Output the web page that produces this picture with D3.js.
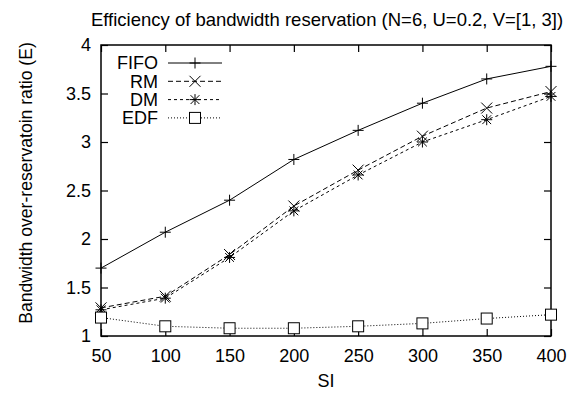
<!DOCTYPE html>
<html>
<head>
<meta charset="utf-8">
<script src="https://cdn.jsdelivr.net/npm/d3@7"></script>
<style>
  body { margin: 0; background: #fff; }
  svg { display: block; font-family: "Liberation Sans", Arial, sans-serif; }
  .tick text { font-size: 18px; fill: #000; }
</style>
</head>
<body>
<svg id="chart" width="581" height="394"></svg>
<script>
// values
var siValues = [50, 100, 150, 200, 250, 300, 350, 400];
var fifo = [1.70, 2.07, 2.40, 2.82, 3.12, 3.40, 3.65, 3.78];
var rm   = [1.29, 1.41, 1.84, 2.34, 2.71, 3.06, 3.35, 3.52];
var dm   = [1.27, 1.39, 1.81, 2.29, 2.66, 3.00, 3.23, 3.47];
var edf  = [1.19, 1.10, 1.08, 1.08, 1.10, 1.13, 1.18, 1.22];
var yTicks = [1, 1.5, 2, 2.5, 3, 3.5, 4];
var seriesNames = ["FIFO", "RM", "DM", "EDF"];

var margin = { top: 45, right: 30, bottom: 58, left: 101 };
var width = 581 - margin.left - margin.right;
var height = 394 - margin.top - margin.bottom;

var svg = d3.select("#chart");
var g = svg.append("g").attr("transform", "translate(" + margin.left + "," + margin.top + ")");

var x = d3.scaleLinear().domain([50, 400]).range([0, width]);
var y = d3.scaleLinear().domain([1, 4]).range([height, 0]);

var tickLen = 7;

// axes: gnuplot style, ticks pointing inward and mirrored
var xAxis = g.append("g").attr("transform", "translate(0," + height + ")")
  .call(d3.axisBottom(x).tickValues(siValues).tickSize(-tickLen).tickPadding(13).tickFormat(d3.format("d")));
var xTop = g.append("g")
  .call(d3.axisTop(x).tickValues(siValues).tickSize(-tickLen).tickFormat(""));
var yAxis = g.append("g")
  .call(d3.axisLeft(y).tickValues(yTicks).tickSize(-tickLen).tickPadding(10).tickFormat(function(d) { return d3.format("")(d); }));
var yRight = g.append("g").attr("transform", "translate(" + width + ",0)")
  .call(d3.axisRight(y).tickValues(yTicks).tickSize(-tickLen).tickFormat(""));

[xAxis, xTop, yAxis, yRight].forEach(function(a) {
  a.select(".domain").remove();
  a.selectAll(".tick line").attr("stroke", "#000").attr("stroke-width", 1.2);
});

g.append("rect").attr("width", width).attr("height", height)
  .attr("fill", "none").attr("stroke", "#000").attr("stroke-width", 1.5);

var line = d3.line().x(function(d, i) { return x(siValues[i]); }).y(function(d) { return y(d); });

var styles = [
  { data: fifo, dash: null, marker: "plus" },
  { data: rm, dash: "5,3", marker: "cross" },
  { data: dm, dash: "3,3", marker: "star" },
  { data: edf, dash: "1,2", marker: "square" }
];

function drawMarker(sel, type, cx, cy) {
  var s = 5.5;
  var m = sel.append("g").attr("transform", "translate(" + cx + "," + cy + ")")
    .attr("stroke", "#000").attr("stroke-width", 1).attr("fill", "none");
  if (type === "plus" || type === "star") {
    m.append("line").attr("x1", -s).attr("x2", s).attr("y1", 0).attr("y2", 0);
    m.append("line").attr("x1", 0).attr("x2", 0).attr("y1", -s).attr("y2", s);
  }
  if (type === "cross" || type === "star") {
    var c = type === "star" ? s * 0.8 : s;
    m.append("line").attr("x1", -c).attr("x2", c).attr("y1", -c).attr("y2", c);
    m.append("line").attr("x1", -c).attr("x2", c).attr("y1", c).attr("y2", -c);
  }
  if (type === "square") {
    m.append("rect").attr("x", -s).attr("y", -s).attr("width", 2 * s).attr("height", 2 * s)
      .attr("fill", "#fff");
  }
}

styles.forEach(function(st) {
  g.append("path").datum(st.data).attr("d", line)
    .attr("fill", "none").attr("stroke", "#000").attr("stroke-width", 1)
    .attr("stroke-dasharray", st.dash);
  st.data.forEach(function(v, i) { drawMarker(g, st.marker, x(siValues[i]), y(v)); });
});

// legend
var legend = g.append("g").attr("transform", "translate(0,18)");
seriesNames.forEach(function(name, i) {
  var ly = i * 18.3;
  legend.append("text").attr("x", 57).attr("y", ly).attr("dy", "0.35em")
    .attr("text-anchor", "end").attr("font-size", 18).text(name);
  legend.append("line").attr("x1", 67).attr("x2", 121).attr("y1", ly).attr("y2", ly)
    .attr("stroke", "#000").attr("stroke-width", 1).attr("stroke-dasharray", styles[i].dash);
  drawMarker(legend, styles[i].marker, 94, ly);
});

// titles
svg.append("text").attr("x", 327).attr("y", 20).attr("dy", "0.35em")
  .attr("text-anchor", "middle").attr("font-size", 18.5)
  .text("Efficiency of bandwidth reservation (N=6, U=0.2, V=[1, 3])");
svg.append("text").attr("x", margin.left + width / 2).attr("y", 381).attr("dy", "0.35em")
  .attr("text-anchor", "middle").attr("font-size", 18).text("SI");
svg.append("text").attr("transform", "translate(32,183) rotate(-90)")
  .attr("text-anchor", "middle").attr("font-size", 17.6)
  .text("Bandwidth over-reservatoin ratio (E)");
</script>
</body>
</html>
